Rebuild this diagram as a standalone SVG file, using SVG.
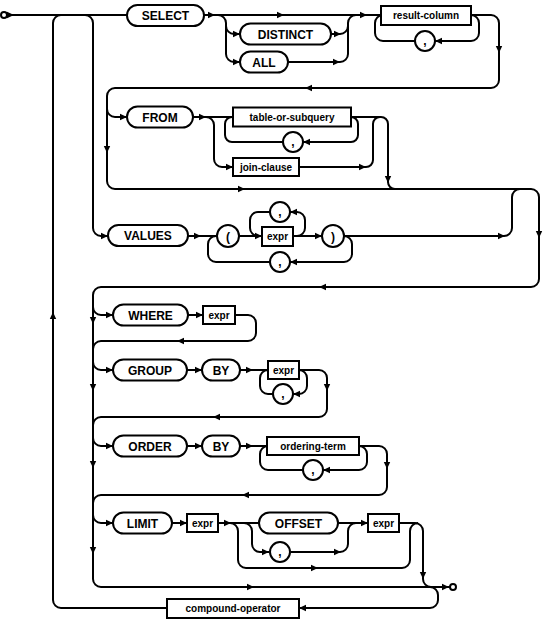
<svg xmlns="http://www.w3.org/2000/svg" xmlns:xlink="http://www.w3.org/1999/xlink" width="544" height="621" viewBox="0 0 544 621">
<style>
.c{fill:none;stroke:#000;stroke-width:2}
.n{fill:#fff;stroke:#000;stroke-width:2}
.k{font-family:"Liberation Sans",Arial,sans-serif;font-weight:bold;font-size:12px;text-anchor:middle;fill:#000}
.t{font-family:"Liberation Sans",Arial,sans-serif;font-weight:bold;font-size:10px;text-anchor:middle;fill:#000}
</style>
<defs>
<path id="a" d="M0,0 L-7,-3.2 L-7,3.2 Z" fill="#000"/>
</defs>
<rect width="544" height="621" fill="#fff"/>
<g id="connectors">
<path class="c" d="M7,15 H127"/>
<path class="c" d="M204,15 H381"/>
<path class="c" d="M167,608 H61 A8,8 0 0 1 53,600 V23 A8,8 0 0 1 61,15"/>
<path class="c" d="M85,15 A8,8 0 0 1 93,23 V228 A8,8 0 0 0 101,236 H108"/>
<path class="c" d="M218,15 A8,8 0 0 1 226,23 V54 A8,8 0 0 0 234,62 H240"/>
<path class="c" d="M226,26 A8,8 0 0 0 234,34 H240"/>
<path class="c" d="M331,34 H340 A8,8 0 0 0 348,26"/>
<path class="c" d="M288,62 H340 A8,8 0 0 0 348,54 V23 A8,8 0 0 1 356,15"/>
<path class="c" d="M415,41 H383 A8,8 0 0 1 375,33 V23 A8,8 0 0 1 383,15"/>
<path class="c" d="M471,15 A8,8 0 0 1 479,23 V33 A8,8 0 0 1 471,41 H435"/>
<path class="c" d="M471,15 H491 A8,8 0 0 1 499,23 V80 A8,8 0 0 1 491,88 H115 A8,8 0 0 0 107,96 V181 A8,8 0 0 0 115,189 H531 A8,8 0 0 1 539,197 V279 A8,8 0 0 1 531,287 H101 A8,8 0 0 0 93,295 V579 A8,8 0 0 0 101,587 H450"/>
<path class="c" d="M107,109 A8,8 0 0 0 115,117 H127"/>
<path class="c" d="M193,117 H233"/>
<path class="c" d="M206,117 A8,8 0 0 1 214,125 V159 A8,8 0 0 0 222,167 H233"/>
<path class="c" d="M283,142 H232 A7,7 0 0 1 225,135 V124 A7,7 0 0 1 232,117"/>
<path class="c" d="M351,117 A7,7 0 0 1 358,124 V135 A7,7 0 0 1 351,142 H303"/>
<path class="c" d="M299,167 H366 A7,7 0 0 0 373,160 V124 A7,7 0 0 1 380,117"/>
<path class="c" d="M351,117 H381 A7,7 0 0 1 388,124 V182 A7,7 0 0 0 395,189"/>
<path class="c" d="M188,236 H217"/>
<path class="c" d="M239,236 H262"/>
<path class="c" d="M293,236 H322"/>
<path class="c" d="M270,262 H216 A8,8 0 0 1 208,254 V244 A8,8 0 0 1 216,236"/>
<path class="c" d="M344,236 A8,8 0 0 1 352,244 V254 A8,8 0 0 1 344,262 H290"/>
<path class="c" d="M297,236 A8,8 0 0 0 305,228 V220 A8,8 0 0 0 297,212 H290"/>
<path class="c" d="M270,212 H258 A8,8 0 0 0 250,220 V228 A8,8 0 0 0 258,236"/>
<path class="c" d="M344,236 H504 A8,8 0 0 0 512,228 V197 A8,8 0 0 1 520,189"/>
<path class="c" d="M93,307 A8,8 0 0 0 101,315 H113"/>
<path class="c" d="M188,315 H203"/>
<path class="c" d="M235,315 H248 A8,8 0 0 1 256,323 V333 A8,8 0 0 1 248,341 H101 A8,8 0 0 0 93,349"/>
<path class="c" d="M93,362 A8,8 0 0 0 101,370 H113"/>
<path class="c" d="M187,370 H202"/>
<path class="c" d="M240,370 H268"/>
<path class="c" d="M273,394 H268 A8,8 0 0 1 260,386 V378 A8,8 0 0 1 268,370"/>
<path class="c" d="M299,370 A8,8 0 0 1 307,378 V386 A8,8 0 0 1 299,394 H293"/>
<path class="c" d="M299,370 H319 A8,8 0 0 1 327,378 V409 A8,8 0 0 1 319,417 H101 A8,8 0 0 0 93,425"/>
<path class="c" d="M93,438 A8,8 0 0 0 101,446 H113"/>
<path class="c" d="M187,446 H202"/>
<path class="c" d="M240,446 H267"/>
<path class="c" d="M303,470 H268 A8,8 0 0 1 260,462 V454 A8,8 0 0 1 268,446"/>
<path class="c" d="M359,446 A8,8 0 0 1 367,454 V462 A8,8 0 0 1 359,470 H323"/>
<path class="c" d="M359,446 H379 A8,8 0 0 1 387,454 V487 A8,8 0 0 1 379,495 H101 A8,8 0 0 0 93,503"/>
<path class="c" d="M93,515 A8,8 0 0 0 101,523 H113"/>
<path class="c" d="M172,523 H187"/>
<path class="c" d="M218,523 H259"/>
<path class="c" d="M338,523 H368"/>
<path class="c" d="M230,523 A8,8 0 0 1 238,531 V560 A8,8 0 0 0 246,568 H402 A8,8 0 0 0 410,560 V531 A8,8 0 0 1 418,523"/>
<path class="c" d="M244,523 A8,8 0 0 1 252,531 V544 A8,8 0 0 0 260,552 H269"/>
<path class="c" d="M291,552 H340 A8,8 0 0 0 348,544 V531 A8,8 0 0 1 356,523"/>
<path class="c" d="M399,523 H415 A8,8 0 0 1 423,531 V579 A8,8 0 0 0 431,587"/>
<path class="c" d="M430,587 A8,8 0 0 1 438,595 V600 A8,8 0 0 1 430,608 H299"/>
<g id="arrows">
<use xlink:href="#a" transform="translate(14,15)"/>
<use xlink:href="#a" transform="translate(215,15)"/>
<use xlink:href="#a" transform="translate(240,34)"/>
<use xlink:href="#a" transform="translate(240,62)"/>
<use xlink:href="#a" transform="translate(284,15)"/>
<use xlink:href="#a" transform="translate(341,34)"/>
<use xlink:href="#a" transform="translate(340,62)"/>
<use xlink:href="#a" transform="translate(367,15)"/>
<use xlink:href="#a" transform="translate(435,41) rotate(180)"/>
<use xlink:href="#a" transform="translate(499,53) rotate(90)"/>
<use xlink:href="#a" transform="translate(305,88) rotate(180)"/>
<use xlink:href="#a" transform="translate(107,153) rotate(90)"/>
<use xlink:href="#a" transform="translate(127,117)"/>
<use xlink:href="#a" transform="translate(206,117)"/>
<use xlink:href="#a" transform="translate(233,167)"/>
<use xlink:href="#a" transform="translate(303,142) rotate(180)"/>
<use xlink:href="#a" transform="translate(366,167)"/>
<use xlink:href="#a" transform="translate(388,183) rotate(90)"/>
<use xlink:href="#a" transform="translate(245,189)"/>
<use xlink:href="#a" transform="translate(108,236)"/>
<use xlink:href="#a" transform="translate(201,236)"/>
<use xlink:href="#a" transform="translate(262,236)"/>
<use xlink:href="#a" transform="translate(290,212) rotate(180)"/>
<use xlink:href="#a" transform="translate(322,236)"/>
<use xlink:href="#a" transform="translate(290,262) rotate(180)"/>
<use xlink:href="#a" transform="translate(505,236)"/>
<use xlink:href="#a" transform="translate(539,238) rotate(90)"/>
<use xlink:href="#a" transform="translate(319,287) rotate(180)"/>
<use xlink:href="#a" transform="translate(93,324) rotate(90)"/>
<use xlink:href="#a" transform="translate(113,315)"/>
<use xlink:href="#a" transform="translate(203,315)"/>
<use xlink:href="#a" transform="translate(177,341) rotate(180)"/>
<use xlink:href="#a" transform="translate(93,391) rotate(90)"/>
<use xlink:href="#a" transform="translate(113,370)"/>
<use xlink:href="#a" transform="translate(202,370)"/>
<use xlink:href="#a" transform="translate(253,370)"/>
<use xlink:href="#a" transform="translate(293,394) rotate(180)"/>
<use xlink:href="#a" transform="translate(327,391) rotate(90)"/>
<use xlink:href="#a" transform="translate(213,417) rotate(180)"/>
<use xlink:href="#a" transform="translate(93,468) rotate(90)"/>
<use xlink:href="#a" transform="translate(113,446)"/>
<use xlink:href="#a" transform="translate(202,446)"/>
<use xlink:href="#a" transform="translate(253,446)"/>
<use xlink:href="#a" transform="translate(323,470) rotate(180)"/>
<use xlink:href="#a" transform="translate(387,469) rotate(90)"/>
<use xlink:href="#a" transform="translate(242,495) rotate(180)"/>
<use xlink:href="#a" transform="translate(93,554) rotate(90)"/>
<use xlink:href="#a" transform="translate(113,523)"/>
<use xlink:href="#a" transform="translate(187,523)"/>
<use xlink:href="#a" transform="translate(231,523)"/>
<use xlink:href="#a" transform="translate(269,552)"/>
<use xlink:href="#a" transform="translate(341,552)"/>
<use xlink:href="#a" transform="translate(368,523)"/>
<use xlink:href="#a" transform="translate(318,568)"/>
<use xlink:href="#a" transform="translate(423,579) rotate(90)"/>
<use xlink:href="#a" transform="translate(254,587)"/>
<use xlink:href="#a" transform="translate(449,587)"/>
<use xlink:href="#a" transform="translate(299,608) rotate(180)"/>
<use xlink:href="#a" transform="translate(53,312) rotate(-90)"/>
</g>
</g>
<g id="start"><circle class="n" cx="4" cy="15" r="3"/></g>
<g id="end"><circle class="n" cx="453" cy="587" r="3"/></g>
<g id="select"><rect class="n" x="127" y="5" width="77" height="21" rx="10.5"/><text class="k" x="165.5" y="20">SELECT</text></g>
<g id="distinct"><rect class="n" x="240" y="23.5" width="91" height="21" rx="10.5"/><text class="k" x="285.5" y="38.5">DISTINCT</text></g>
<g id="all"><rect class="n" x="240" y="51.5" width="48" height="21" rx="10.5"/><text class="k" x="264" y="66.5">ALL</text></g>
<g id="result-column"><rect class="n" x="381" y="6" width="90" height="19"/><text class="t" x="426" y="19">result-column</text></g>
<g id="comma1"><circle class="n" cx="425" cy="41" r="10"/><text class="k" x="425" y="45">,</text></g>
<g id="from"><rect class="n" x="127" y="106.5" width="66" height="21" rx="10.5"/><text class="k" x="160" y="121.5">FROM</text></g>
<g id="table-or-subquery"><rect class="n" x="233" y="107.5" width="118" height="19"/><text class="t" x="292" y="120.5">table-or-subquery</text></g>
<g id="comma2"><circle class="n" cx="293" cy="142" r="10"/><text class="k" x="293" y="146">,</text></g>
<g id="join-clause"><rect class="n" x="233" y="158" width="66" height="18"/><text class="t" x="266" y="170.5">join-clause</text></g>
<g id="values"><rect class="n" x="108" y="225" width="80" height="21" rx="10.5"/><text class="k" x="148" y="240">VALUES</text></g>
<g id="lparen"><circle class="n" cx="228" cy="236" r="11"/><text class="k" x="228" y="240.5">(</text></g>
<g id="expr1"><rect class="n" x="262" y="227" width="31" height="19"/><text class="t" x="277.5" y="240">expr</text></g>
<g id="comma3"><circle class="n" cx="280" cy="212" r="10"/><text class="k" x="280" y="216">,</text></g>
<g id="rparen"><circle class="n" cx="333" cy="236" r="11"/><text class="k" x="333" y="240.5">)</text></g>
<g id="comma4"><circle class="n" cx="280" cy="262" r="10"/><text class="k" x="280" y="266">,</text></g>
<g id="where"><rect class="n" x="113" y="304.5" width="75" height="21" rx="10.5"/><text class="k" x="150.5" y="319.5">WHERE</text></g>
<g id="expr2"><rect class="n" x="203" y="306" width="32" height="18"/><text class="t" x="219" y="318.5">expr</text></g>
<g id="group"><rect class="n" x="113" y="359.5" width="74" height="21" rx="10.5"/><text class="k" x="150" y="374.5">GROUP</text></g>
<g id="by1"><rect class="n" x="202" y="359.5" width="38" height="21" rx="10.5"/><text class="k" x="221" y="374.5">BY</text></g>
<g id="expr3"><rect class="n" x="268" y="361" width="31" height="18"/><text class="t" x="283.5" y="373.5">expr</text></g>
<g id="comma5"><circle class="n" cx="283" cy="394" r="10"/><text class="k" x="283" y="398">,</text></g>
<g id="order"><rect class="n" x="113" y="435.5" width="74" height="21" rx="10.5"/><text class="k" x="150" y="450.5">ORDER</text></g>
<g id="by2"><rect class="n" x="202" y="435.5" width="38" height="21" rx="10.5"/><text class="k" x="221" y="450.5">BY</text></g>
<g id="ordering-term"><rect class="n" x="267" y="437" width="92" height="18"/><text class="t" x="313" y="449.5">ordering-term</text></g>
<g id="comma6"><circle class="n" cx="313" cy="470" r="10"/><text class="k" x="313" y="474">,</text></g>
<g id="limit"><rect class="n" x="113" y="512.5" width="59" height="21" rx="10.5"/><text class="k" x="142.5" y="527.5">LIMIT</text></g>
<g id="expr4"><rect class="n" x="187" y="514" width="31" height="18"/><text class="t" x="202.5" y="526.5">expr</text></g>
<g id="offset"><rect class="n" x="259" y="512.5" width="79" height="21" rx="10.5"/><text class="k" x="298.5" y="527.5">OFFSET</text></g>
<g id="comma7"><circle class="n" cx="280" cy="552" r="10"/><text class="k" x="280" y="556">,</text></g>
<g id="expr5"><rect class="n" x="368" y="514" width="31" height="18"/><text class="t" x="383.5" y="526.5">expr</text></g>
<g id="compound-operator"><rect class="n" x="167" y="599" width="132" height="19"/><text class="t" x="233" y="612">compound-operator</text></g>
</svg>
